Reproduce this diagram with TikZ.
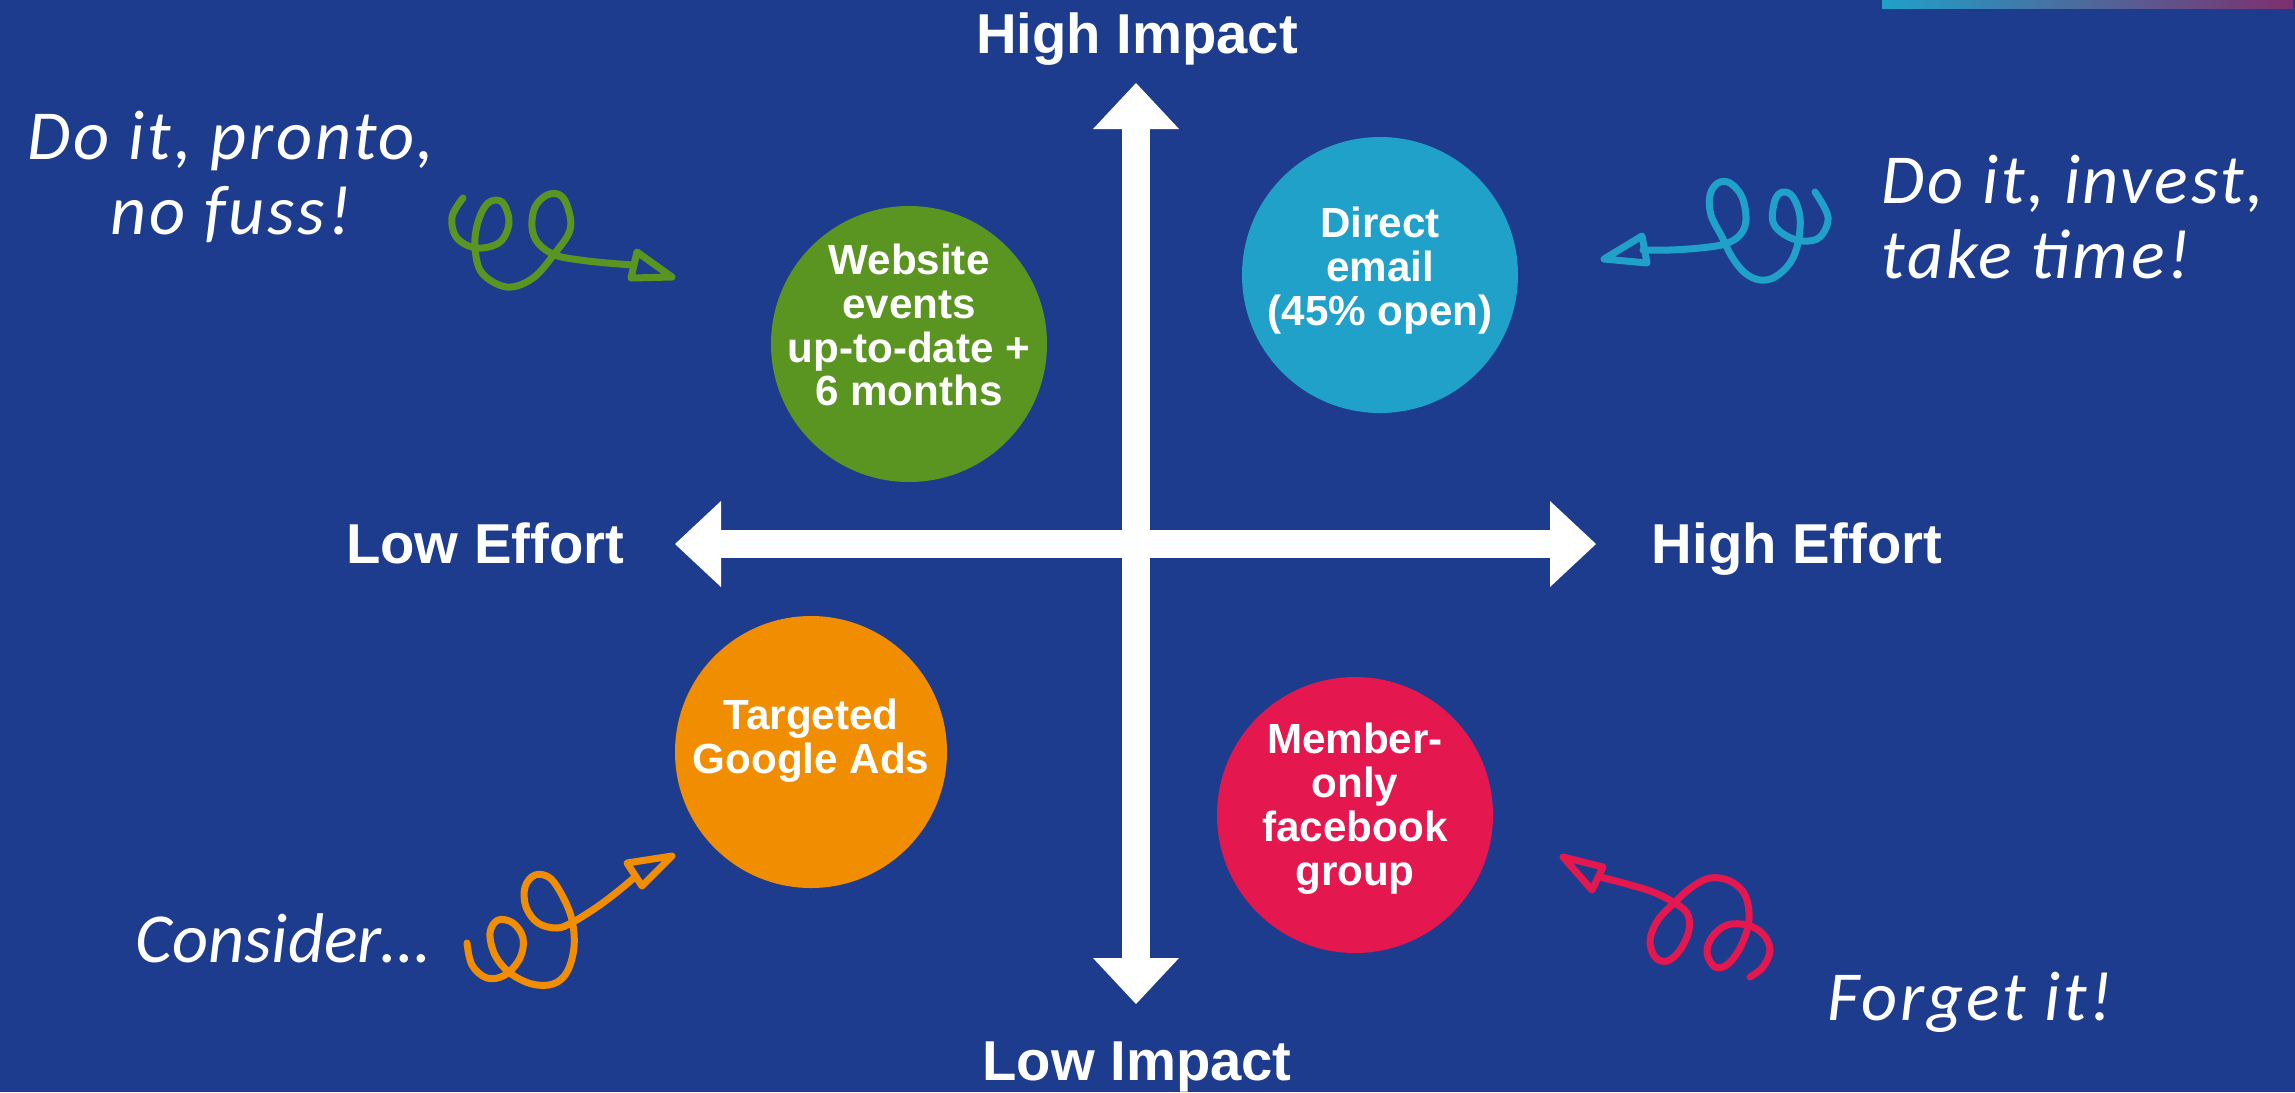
\documentclass[tikz,border=0pt]{standalone}
\usepackage{fontspec}
\setmainfont{Liberation Sans}
\newfontfamily\handfont{Carlito}[LetterSpace=4]
\usetikzlibrary{arrows.meta}

\definecolor{bgblue}{HTML}{1E3C8E}
\definecolor{leafgreen}{HTML}{5A9421}
\definecolor{skyblue}{HTML}{1FA1C9}
\definecolor{tangerine}{HTML}{F18D00}
\definecolor{raspberry}{HTML}{E4174F}
\definecolor{plum}{HTML}{7E2F6E}

\begin{document}
\begin{tikzpicture}[x=0.1mm, y=-0.1mm,
    axis/.style={white, line width=2.8mm,
      {Triangle[width=8.6mm,length=4.6mm,line width=0pt]}-{Triangle[width=8.6mm,length=4.6mm,line width=0pt]}},
    axislabel/.style={text=white, font=\fontsize{16}{18}\selectfont\bfseries, inner sep=0pt, anchor=base},
    bubble/.style={circle, minimum size=27.6mm, inner sep=0pt},
    bubtext/.style={text=white, font=\fontsize{12}{12.5}\selectfont\bfseries, align=center, inner sep=0pt},
    hand/.style={text=white, font=\handfont\itshape\fontsize{20}{21.3}\selectfont, inner sep=0pt},
    curl/.style={line width=0.7mm, line cap=round, line join=round}]

    % background and the strip in the corner
    \fill[bgblue] (0,0) rectangle (2295,1092);
    \shade[left color=skyblue, right color=plum] (1882,0) rectangle (2293,8);

    % the two axes
    \coordinate (top) at (1136,83);
    \coordinate (bottom) at (1136,1004);
    \coordinate (west) at (675,544);
    \coordinate (east) at (1596,544);
    \draw[axis] (bottom) -- (top);
    \draw[axis] (west) -- (east);

    \node[axislabel] (himpact) at (1137,53) {High Impact};
    \node[axislabel] (limpact) at (1137,1080) {Low Impact};
    \node[axislabel] (leffort) at (485,563) {Low Effort};
    \node[axislabel] (heffort) at (1797,563) {High Effort};

    % the four channels
    \node[bubble, fill=leafgreen] (web) at (909,344) {};
    \node[bubble, fill=skyblue] (mail) at (1380,275) {};
    \node[bubble, fill=tangerine, minimum size=27.2mm] (ads) at (811,752) {};
    \node[bubble, fill=raspberry] (group) at (1355,815) {};

    \node[bubtext] (webtext) at (909,325) {Website\\events\\up-to-date +\\6 months};
    \node[bubtext] (mailtext) at (1380,271) {Direct\\email\\(45\% open)};
    \node[bubtext] (adstext) at (811,741) {Targeted\\Google Ads};
    \node[bubtext] (grouptext) at (1355,809) {Member-\\only\\facebook\\group};

    % handwritten notes
    \node[hand, align=center] (pronto) at (231,177) {Do it, pronto,\\no fuss!};
    \node[hand, align=left, anchor=west] (invest) at (1881,217) {Do it, invest,\\take time!};
    \node[hand, anchor=base west, font=\handfont\itshape\addfontfeatures{LetterSpace=0}\fontsize{20}{21.3}\selectfont] (consider) at (135,962) {Consider…};
    \node[hand, anchor=base west] (forget) at (1827,1020) {Forget it!};

    % curly arrows
    \draw[curl, leafgreen] plot[smooth, tension=0.6] coordinates {(463,198) (452,217) (457,238) (477,248) (500,242) (509,222) (502,202) (488,203) (478,222) (475,247) (482,273) (507,287) (533,278) (555,253) (570,230) (568,208) (560,195) (547,195) (535,207) (532,227) (538,243) (555,255) (580,260) (607,263) (633,265)};
    \draw[curl, leafgreen] (637,252) -- (672,277) -- (631,278) -- cycle;

    \draw[curl, skyblue] plot[smooth, tension=0.6] coordinates {(1815,192) (1828,217) (1820,237) (1803,241) (1785,235) (1773,222) (1775,200) (1783,192) (1793,197) (1800,217) (1798,243) (1790,263) (1775,277) (1760,280) (1745,273) (1732,257) (1722,237) (1711,215) (1710,195) (1718,183) (1730,183) (1742,197) (1746,220) (1740,235) (1725,244) (1700,248) (1670,250) (1643,250)};
    \draw[curl, skyblue] (1642,236) -- (1604,259) -- (1647,263) -- cycle;

    \draw[curl, tangerine] plot[smooth, tension=0.6] coordinates {(467,943) (472,965) (487,978) (505,975) (520,958) (523,938) (513,923) (498,920) (490,933) (495,955) (510,973) (532,984) (553,984) (567,972) (574,947) (572,920) (563,897) (550,878) (535,875) (525,887) (526,907) (538,923) (557,928) (573,922) (597,907) (617,892) (635,877)};
    \draw[curl, tangerine] (627,863) -- (672,856) -- (642,886) -- cycle;

    \draw[curl, raspberry] plot[smooth, tension=0.6] coordinates {(1750,977) (1763,967) (1770,950) (1763,934) (1747,925) (1727,925) (1712,937) (1707,953) (1715,967) (1728,964) (1741,946) (1749,920) (1745,895) (1730,881) (1710,878) (1692,887) (1675,902) (1658,920) (1650,940) (1655,957) (1667,961) (1680,950) (1689,930) (1687,913) (1673,902) (1653,892) (1627,884) (1600,877)};
    \draw[curl, raspberry] (1563,857) -- (1603,867) -- (1592,890) -- cycle;
\end{tikzpicture}
\end{document}
